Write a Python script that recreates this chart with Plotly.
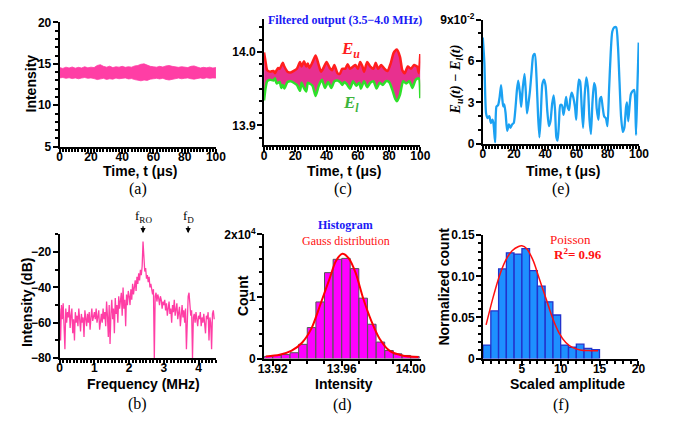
import plotly.graph_objects as go

W, H = 679, 425

# ---------------- data ----------------
# (a) intensity time trace: upper / lower edge of the fast-noise band
t_a = list(range(0, 101, 2))
a_upper = [14.55, 14.45, 14.6, 14.5, 14.62, 14.48, 14.58, 14.5, 14.65, 14.52,
           14.6, 14.55, 14.8, 14.9, 14.7, 14.6, 14.72, 14.55, 14.65, 14.6,
           14.7, 14.58, 14.66, 14.6, 14.75, 14.8, 14.95, 15.0, 14.85, 14.7,
           14.65, 14.6, 14.7, 14.62, 14.75, 14.8, 14.7, 14.62, 14.58, 14.66,
           14.6, 14.55, 14.7, 14.75, 14.62, 14.5, 14.58, 14.52, 14.6, 14.5, 14.55]
a_lower = [13.3, 13.35, 13.25, 13.32, 13.22, 13.3, 13.2, 13.28, 13.35, 13.25,
           13.3, 13.22, 13.1, 13.15, 13.25, 13.12, 13.2, 13.15, 13.28, 13.2,
           13.25, 13.3, 13.18, 13.22, 13.1, 13.0, 12.95, 13.05, 13.0, 13.15,
           13.2, 13.25, 13.18, 13.25, 13.12, 13.05, 13.15, 13.2, 13.28, 13.2,
           13.25, 13.3, 13.2, 13.15, 13.25, 13.3, 13.22, 13.32, 13.25, 13.3, 13.28]

# (b) RF spectrum, dB, sampled every 0.025 MHz from 0 MHz
b_step = 0.025
b_db = [-52, -70, -50, -58, -49, -62, -75, -52, -60, -54,
        -57, -50, -63, -56, -52, -66, -58, -70, -54, -60,
        -56, -62, -52, -58, -65, -55, -60, -57, -68, -53,
        -58, -62, -55, -60, -54, -64, -57, -52, -59, -55,
        -54, -58, -52, -60, -56, -53, -64, -57, -55, -60,
        -52, -58, -54, -62, -48, -56, -68, -50, -72, -55,
        -47, -58, -52, -66, -46, -55, -50, -60, -45, -52,
        -48, -43, -56, -40, -52, -47, -62, -44, -50, -42,
        -45, -50, -41, -47, -38, -44, -40, -36, -42, -34,
        -38, -32, -36, -30, -33, -28, -14, -27, -31, -29,
        -35, -33, -37, -34, -40, -38, -42, -44, -41, -80,
        -45, -43, -48, -44, -46, -50, -45, -47, -52, -48,
        -50, -47, -53, -49, -56, -51, -48, -55, -52, -60,
        -50, -54, -47, -56, -52, -49, -58, -53, -51, -62,
        -55, -50, -57, -53, -60, -52, -75, -49, -45, -43,
        -50, -56, -53, -80, -57, -55, -60, -54, -58, -62,
        -56, -58, -54, -62, -57, -60, -55, -59, -66, -56,
        -58, -54, -70, -57, -60, -75, -55, -53, -58]
b_freq = [round(i * b_step, 3) for i in range(len(b_db))]

# (c) filtered output: upper and lower envelopes
t_eu = [0, 1, 2, 4, 6, 7, 8, 9, 10, 12, 13, 15, 17, 19, 21, 23, 24, 25.5, 27, 28,
        29, 31, 33, 35, 36.5, 38, 40, 42, 43.5, 45, 47, 48.5, 50, 52, 53.5, 55, 57,
        58.5, 60, 61.5, 63, 64, 66, 68, 70, 71.5, 73, 75, 77, 79, 81, 83, 85, 87,
        88.5, 90, 92, 94, 96, 98, 99, 100]
eu = [13.999, 13.986, 13.975, 13.973, 13.974, 13.971, 13.975, 13.978, 13.977, 13.985,
      13.980, 13.973, 13.972, 13.974, 13.977, 13.986, 13.980, 13.987, 13.980, 13.984,
      13.978, 13.986, 13.995, 13.982, 13.973, 13.978, 13.986, 13.978, 13.975, 13.982,
      13.971, 13.970, 13.977, 13.977, 13.983, 13.977, 13.980, 13.982, 13.977, 13.986,
      13.980, 13.973, 13.986, 13.980, 13.977, 13.985, 13.977, 13.982, 13.977, 13.974,
      13.984, 13.999, 14.003, 13.993, 13.975, 13.971, 13.980, 13.977, 13.982, 13.980,
      13.971, 13.997]
t_el = [0, 1, 2, 4, 6, 7, 8, 10, 11, 12, 13, 15, 17, 19, 21, 23, 24, 25.5, 27, 28,
        29, 31, 33, 35, 37, 39, 41, 43, 45, 47, 49, 50, 51.5, 53, 55, 57, 59, 61, 62,
        64, 66, 68, 70, 72, 74, 76, 78, 80, 82, 84, 85, 87, 89, 91, 93, 95, 97, 99, 100]
el = [13.934, 13.951, 13.960, 13.962, 13.961, 13.964, 13.957, 13.959, 13.951, 13.955,
      13.950, 13.959, 13.960, 13.958, 13.955, 13.947, 13.958, 13.951, 13.946, 13.958,
      13.957, 13.954, 13.940, 13.954, 13.962, 13.951, 13.959, 13.951, 13.960, 13.961,
      13.958, 13.955, 13.959, 13.956, 13.950, 13.960, 13.954, 13.958, 13.950, 13.960,
      13.952, 13.958, 13.960, 13.950, 13.958, 13.955, 13.960, 13.959, 13.949, 13.936,
      13.933, 13.942, 13.960, 13.957, 13.960, 13.951, 13.962, 13.964, 13.937]

# (e) envelope difference, in units of 1e-2
t_e = [0, 1, 2.1, 3.1, 4.2, 5.2, 6.25, 6.9, 7.9, 8.75, 9.8, 10.8, 11.7, 12.5, 13.1,
       13.75, 14.6, 15.6, 16.7, 17.7, 18.75, 19.8, 20.8, 21.9, 22.7, 23.75, 24.6,
       25.6, 26.7, 27.5, 28.3, 29.2, 30.2, 31.25, 32.3, 33.3, 34.4, 35.4, 36.25,
       37.1, 38.1, 39.2, 40.2, 41.25, 42.3, 43.3, 44.4, 45.4, 46.25, 47.1, 47.9,
       48.75, 49.6, 50.6, 51.7, 52.5, 53.3, 54.2, 55.2, 56.0, 56.9, 57.9, 59.0,
       59.8, 60.4, 61.5, 62.3, 63.3, 64.2, 65.2, 66.25, 67.3, 68.3, 69.2, 70.2,
       71.25, 72.1, 72.9, 74.0, 75.0, 75.8, 76.7, 77.7, 78.75, 79.8, 80.8, 81.9,
       82.9, 84.2, 85.4, 86.5, 87.5, 88.5, 89.6, 90.6, 91.7, 92.3, 93.1, 94.0,
       94.8, 95.8, 96.9, 97.5, 98.1, 99.0, 99.8]
e_diff = [7.7, 5.9, 2.2, 1.86, 2.0, 1.5, 1.74, 1.4, 0.1, 2.7, 2.8, 3.4, 4.25, 3.25, 2.7,
          2.86, 2.2, 0.93, 1.4, 1.16, 1.4, 1.5, 2.44, 3.95, 4.58, 3.7, 2.67,
          4.07, 5.07, 3.84, 2.2, 2.9, 3.84, 5.23, 6.4, 6.5, 4.77, 1.98, 0.47,
          2.0, 4.3, 4.65, 4.2, 2.44, 1.28, 1.63, 2.9, 3.5, 2.44, 0.47, 0.23,
          1.5, 2.8, 2.8, 2.1, 2.7, 3.4, 2.7, 2.44, 3.26, 3.7, 3.37, 2.67,
          1.74, 3.14, 4.65, 4.5, 2.67, 1.16, 3.5, 4.8, 4.07, 1.74, 0.7, 3.0,
          4.4, 4.07, 2.56, 1.74, 3.26, 3.4, 2.67, 1.98, 1.86, 1.28, 3.84, 6.63,
          8.14, 8.44, 8.44, 7.1, 4.53, 1.98, 0.86, 1.16, 2.67, 3.0, 1.63, 2.8,
          3.6, 3.8, 3.9, 3.26, 0.63, 4.3, 7.33]

# (d) histogram of intensity (bin width 0.005) and Gaussian fit
d_bins = [13.9175, 13.9225, 13.9275, 13.9325, 13.9375, 13.9425, 13.9475, 13.9525, 13.9575,
          13.9625, 13.9675, 13.9725, 13.9775, 13.9825, 13.9875, 13.9925, 13.9975, 14.0025]
d_counts = [350, 500, 650, 950, 2300, 5000, 9130, 13850, 16000,
            16150, 14500, 9740, 5540, 2670, 1300, 770, 510, 350]
d_fit_x = [13.916, 13.924, 13.931, 13.937, 13.9425, 13.948, 13.953, 13.9566, 13.9604,
           13.964, 13.968, 13.9726, 13.9773, 13.982, 13.9877, 13.995, 14.0045]
d_fit_y = [360, 615, 1280, 2560, 4870, 9000, 12900, 15700, 16900,
           16200, 13900, 9600, 6000, 3200, 1280, 510, 260]

# (f) normalized histogram of scaled amplitude and Poisson fit
f_bins = [0.5, 1.5, 2.5, 3.5, 4.5, 5.5, 6.5, 7.5, 8.5, 9.5, 10.5, 11.5, 12.5, 13.5, 14.5]
f_counts = [0.0165, 0.058, 0.109, 0.1285, 0.127, 0.1336, 0.107, 0.088, 0.069, 0.053,
            0.0165, 0.0138, 0.0175, 0.0125, 0.0108]
f_fit_x = [0.4, 1.23, 2.07, 2.9, 3.75, 4.58, 5.0, 5.63, 6.46, 7.3, 8.14, 8.97, 9.8,
           10.65, 11.5, 12.5, 13.8, 14.8]
f_fit_y = [0.041, 0.072, 0.0993, 0.119, 0.131, 0.1363, 0.137, 0.1336, 0.119, 0.0954,
           0.072, 0.0487, 0.031, 0.0195, 0.0136, 0.0105, 0.0097, 0.0097]

# ---------------- styles ----------------
PINK = "#FF3EA5"
FILL_C = "#E8308F"
RED = "#FF1E1E"
GREEN = "#2EE02A"
SKY = "#1BA1F2"
SANS = "Liberation Sans"
SERIF = "Liberation Serif"
TICKFONT = dict(family=SANS, size=12, color="black", weight="bold")


def px(x):
    return x / W


def py(y):
    return 1 - y / H


def axis(domain, rng, anchor, tickvals, ticktext=None, minor=None, minor0=None):
    is_x = anchor.startswith("y")
    d = dict(domain=[px(domain[0]), px(domain[1])] if is_x else
             [py(domain[0]), py(domain[1])],
             range=rng, anchor=anchor, showline=True, linecolor="black", linewidth=2,
             ticks="outside", ticklen=5, tickwidth=2, tickcolor="black",
             showgrid=False, zeroline=False, tickfont=TICKFONT,
             ticklabelstandoff=-7 if is_x else -1,
             tickmode="array", tickvals=tickvals, fixedrange=True)
    if ticktext is not None:
        d["ticktext"] = ticktext
    if minor is not None:
        m = dict(ticks="outside", ticklen=3, tickwidth=1.5, tickcolor="black",
                 dtick=minor, showgrid=False)
        if minor0 is not None:
            m["tick0"] = minor0
        d["minor"] = m
    return d


fig = go.Figure()

# (a)
fig.add_trace(go.Scatter(x=t_a + t_a[::-1], y=a_upper + a_lower[::-1], mode="lines",
                         fill="toself", fillcolor=PINK, line=dict(color=PINK, width=0.8),
                         xaxis="x", yaxis="y"))
# (c)
fig.add_trace(go.Scatter(x=t_eu + t_el[::-1], y=eu + el[::-1], mode="lines",
                         fill="toself", fillcolor=FILL_C,
                         line=dict(color=FILL_C, width=0, shape="spline", smoothing=0.6),
                         xaxis="x2", yaxis="y2"))
fig.add_trace(go.Scatter(x=t_eu, y=eu, mode="lines",
                         line=dict(color=RED, width=2.5, shape="spline", smoothing=0.6),
                         xaxis="x2", yaxis="y2"))
fig.add_trace(go.Scatter(x=t_el, y=el, mode="lines",
                         line=dict(color=GREEN, width=2.5, shape="spline", smoothing=0.6),
                         xaxis="x2", yaxis="y2"))
# (e)
fig.add_trace(go.Scatter(x=t_e, y=e_diff, mode="lines",
                         line=dict(color=SKY, width=2.3, shape="spline", smoothing=0.6),
                         xaxis="x3", yaxis="y3"))
# (b)
fig.add_trace(go.Scatter(x=b_freq, y=b_db, mode="lines", line=dict(color=PINK, width=1.3),
                         xaxis="x4", yaxis="y4"))
# (d)
fig.add_trace(go.Bar(x=d_bins, y=d_counts, width=0.0049, marker=dict(
    color="#FF00FF", line=dict(color="#555555", width=1)), xaxis="x5", yaxis="y5"))
fig.add_trace(go.Scatter(x=d_fit_x, y=d_fit_y, mode="lines",
                         line=dict(color="#FF0000", width=2, shape="spline", smoothing=0.8),
                         xaxis="x5", yaxis="y5"))
# (f)
fig.add_trace(go.Bar(x=f_bins, y=f_counts, width=0.98, marker=dict(
    color="#1E90FF", line=dict(color="#2233CC", width=1.3)), xaxis="x6", yaxis="y6"))
fig.add_trace(go.Scatter(x=f_fit_x, y=f_fit_y, mode="lines",
                         line=dict(color="#FF1010", width=1.5, shape="spline", smoothing=0.8),
                         xaxis="x6", yaxis="y6"))

layout = dict(
    width=W, height=H, margin=dict(l=0, r=0, t=0, b=0), showlegend=False,
    paper_bgcolor="white", plot_bgcolor="white",
    xaxis=axis((55, 215), [0, 100], "y", [0, 20, 40, 60, 80, 100], minor=2),
    yaxis=axis((143, 14), [5, 20], "x", [5, 10, 15, 20], minor=1),
    xaxis2=axis((264.3, 424.3), [0, 100], "y2", [0, 20, 40, 60, 80, 100], minor=2),
    yaxis2=axis((141.7, 10), [13.873, 14.045], "x2", [13.9, 14.0], ["13.9", "14.0"],
                minor=0.1 / 6, minor0=13.9),
    xaxis3=axis((488.3, 648.3), [0, 100], "y3", [0, 20, 40, 60, 80, 100], minor=2),
    yaxis3=axis((140, 11), [0, 9], "x3", [0, 3, 6, 9], ["0", "3", "6", "9x10<sup>-2</sup>"],
                minor=1),
    xaxis4=axis((55, 215), [0, 4.5], "y4", [0, 1, 2, 3, 4], minor=0.1),
    yaxis4=axis((362.7, 234.3), [-80, -10], "x4", [-80, -60, -40, -20], minor=10),
    xaxis5=axis((264.3, 425), [13.915, 14.006], "y5", [13.92, 13.96, 14.0],
                ["13.92", "13.96", "14.00"], minor=0.01, minor0=13.92),
    yaxis5=axis((363.3, 234.3), [0, 20000], "x5", [0, 10000, 20000],
                ["0", "1", "2x10<sup>4</sup>"], minor=2000),
    xaxis6=axis((488.5, 647.7), [0, 20], "y6", [5, 10, 15, 20], minor=1),
    yaxis6=axis((363.3, 235), [0, 0.15], "x6", [0, 0.05, 0.10, 0.15],
                ["0", "0.05", "0.10", "0.15"], minor=0.01),
)

ann = []


def text(x, y, s, size=14, family=SANS, color="black", angle=0, bold=True, italic=False):
    ann.append(dict(x=px(x), y=py(y), xref="paper", yref="paper", text=s, showarrow=False,
                    xanchor="center", yanchor="middle", textangle=angle,
                    font=dict(family=family, size=size, color=color,
                              weight="bold" if bold else "normal",
                              style="italic" if italic else "normal")))


# axis titles
for cx in (137, 346, 570):
    text(cx, 168, "Time, t (μs)")
text(26, 77, "Intensity", angle=-90)
text(141, 390, "Frequency (MHz)")
text(21, 305, "Intensity (dB)", angle=-90)
text(346, 390, "Intensity")
text(243, 298, "Count", angle=-90)
text(575, 390, "Scaled amplitude")
text(449, 288, "Normalized count", angle=-90)
text(461, 73, "E<sub>u</sub>(t) − E<sub>l</sub>(t)", size=14, family=SERIF, angle=-90,
     italic=True)

# panel letters
for (cx, cy, s) in [(135, 187, "(a)"), (345, 187, "(c)"), (568, 187, "(e)"),
                    (135, 410, "(b)"), (345, 411, "(d)"), (568, 411, "(f)")]:
    text(cx, cy, s, size=16, family=SERIF, bold=False)

# in-panel labels
text(347, 11, "Filtered output (3.5−4.0 MHz)", size=12, family=SERIF, color="#1A1AF5")
text(353, 43, "E<sub>u</sub>", size=17, family=SERIF, color=RED, italic=True)
text(353, 99, "E<sub>l</sub>", size=17, family=SERIF, color="#3DB43D", italic=True)
text(348, 224, "Histogram", size=12, family=SERIF, color="#1A1AF5")
text(348, 241, "Gauss distribution", size=12, family=SERIF, color="#FF1010", bold=False)
text(578, 240, "Poisson", size=13, family=SERIF, color="#FF1010", bold=False)
text(586, 255, "R<sup>2</sup>= 0.96", size=13, family=SERIF, color="#FF1010")

# spectral markers with arrows
for f0, lab in [(2.4, "f<sub>RO</sub>"), (3.7, "f<sub>D</sub>")]:
    ann.append(dict(x=f0, y=py(233), xref="x4", yref="paper", text=lab, showarrow=True,
                    arrowhead=2, arrowsize=0.8, arrowwidth=1.3, arrowcolor="black",
                    ax=0, ay=-17, font=dict(family=SERIF, size=13, color="black")))

layout["annotations"] = ann
fig.update_layout(**layout)
fig.write_html("out.html")
